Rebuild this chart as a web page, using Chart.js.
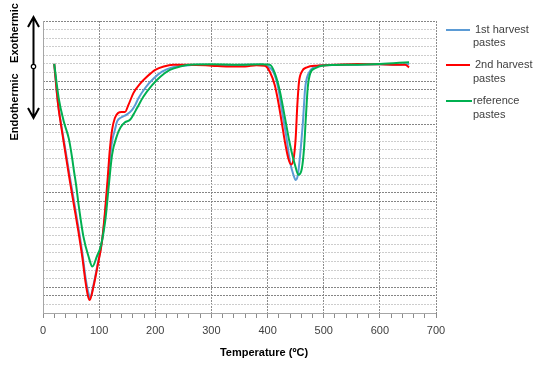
<!DOCTYPE html>
<html lang="en">
<head>
    <meta charset="UTF-8">
    <script src="https://cdn.jsdelivr.net/npm/chart.js@4.4.0/dist/chart.umd.min.js"></script>
    <title>DSC curves</title>
    <style>
        body { margin: 0; background: #fff; }
    </style>
</head>
<body>
    <canvas id="chart1" width="536" height="365"></canvas>

    <script>
        // temperatures (°C) and signal values
        var blueT = [20, 26, 33, 40, 48, 55, 63, 70, 76, 80, 84, 90, 97, 105, 111, 116, 120, 124, 128, 132, 140, 149, 158, 164, 170, 182, 197, 212, 230, 250, 280, 320, 360, 390, 401, 410, 419, 425, 433, 440, 446, 450, 454, 458, 463, 467, 473, 482, 500, 550, 600, 630, 652];
        var blueV = [29.0, 24.8, 21.7, 19.0, 15.8, 13.1, 10.0, 7.0, 4.0, 2.6, 1.8, 3.3, 5.6, 8.3, 11.8, 15.5, 18.5, 20.3, 21.3, 22.3, 22.8, 23.1, 23.6, 24.2, 25.0, 26.2, 27.3, 28.1, 28.6, 28.8, 28.9, 28.85, 28.9, 28.9, 28.7, 28.1, 26.2, 23.8, 20.7, 17.6, 16.1, 15.5, 16.1, 18.4, 22.3, 26.2, 27.9, 28.6, 28.85, 28.9, 28.95, 28.9, 29.0];

        var redT = [20, 27, 34, 40, 48, 55, 63, 70, 76, 80, 83, 90, 97, 105, 110, 115, 119, 123, 128, 134, 140, 146, 152, 161, 173, 185, 200, 215, 232, 260, 300, 330, 360, 380, 395, 404, 413, 419, 425, 431, 437, 442, 446, 450, 453, 456, 461, 470, 488, 520, 560, 600, 630, 645, 652];
        var redV = [29.0, 24.2, 21.1, 18.6, 15.3, 12.6, 9.5, 6.5, 3.5, 2.0, 1.5, 3.1, 5.4, 8.3, 11.5, 15.5, 19.0, 21.3, 22.7, 23.3, 23.4, 23.4, 24.2, 25.6, 26.7, 27.5, 28.3, 28.7, 28.9, 28.9, 28.8, 28.7, 28.7, 28.85, 28.8, 28.1, 26.5, 24.6, 22.3, 19.9, 18.0, 17.3, 17.8, 20.3, 24.2, 26.9, 28.1, 28.6, 28.8, 28.9, 29.0, 28.95, 28.9, 28.9, 28.6];

        var greenT = [20, 28, 37, 46, 52, 55, 59, 63, 72, 81, 88, 96, 103, 111, 117, 123, 132, 138, 146, 155, 161, 167, 179, 194, 209, 226, 244, 262, 300, 350, 390, 404, 413, 422, 431, 440, 449, 455, 461, 465, 468.5, 471.5, 476, 485, 497, 550, 600, 652];
        var greenV = [29.0, 25.0, 22.3, 20.3, 18.0, 16.6, 14.9, 12.8, 8.9, 6.6, 5.4, 6.6, 7.8, 10.8, 14.7, 18.4, 20.7, 21.6, 22.2, 22.5, 23.1, 23.8, 25.2, 26.5, 27.5, 28.3, 28.7, 28.9, 28.95, 28.9, 28.95, 28.9, 27.9, 25.8, 22.7, 19.6, 17.2, 16.1, 16.8, 19.2, 23.1, 26.2, 27.9, 28.5, 28.8, 28.9, 29.0, 29.2];

        var seriesNames = ['1st harvest pastes', '2nd harvest pastes', 'reference pastes'];
        var xTicks = [0, 100, 200, 300, 400, 500, 600, 700];
        // horizontal grid rows drawn darker in the original
        var darkRows = [34, 27, 26, 22, 14, 13, 3, 2];

        var colores = ['#5b9bd5', '#ff0000', '#00b050'];
        var FONT = '"Liberation Sans", Arial, sans-serif';

        function pts(t, v) {
            return t.map((x, i) => ({ x: x, y: v[i] }));
        }

        var data = {
            datasets: [
                { label: seriesNames[0], data: pts(blueT, blueV), borderColor: colores[0], order: 2 },
                { label: seriesNames[1], data: pts(redT, redV), borderColor: colores[1], order: 1 },
                { label: seriesNames[2], data: pts(greenT, greenV), borderColor: colores[2], order: 0 }
            ].map(d => Object.assign(d, {
                borderWidth: 2,
                pointRadius: 0,
                fill: false,
                cubicInterpolationMode: 'monotone'
            }))
        };

        // solid axis lines (grid lines stay dashed)
        var axisLines = {
            id: 'axisLines',
            beforeDatasetsDraw(chart) {
                var a = chart.chartArea, ctx = chart.ctx;
                ctx.save();
                ctx.strokeStyle = '#a6a6a6';
                ctx.lineWidth = 1;
                ctx.beginPath();
                ctx.moveTo(Math.round(a.left) + 0.5, a.top);
                ctx.lineTo(Math.round(a.left) + 0.5, a.bottom);
                ctx.moveTo(a.left, Math.round(a.bottom) + 0.5);
                ctx.lineTo(a.right, Math.round(a.bottom) + 0.5);
                ctx.stroke();
                ctx.restore();
            }
        };

        // side labels, arrow, legend and axis title
        var extras = {
            id: 'extras',
            afterDraw(chart) {
                var ctx = chart.ctx;
                ctx.save();
                ctx.fillStyle = '#000';
                ctx.font = 'bold 11px ' + FONT;
                ctx.textAlign = 'center';
                ctx.textBaseline = 'middle';

                ctx.save();
                ctx.translate(15, 33);
                ctx.rotate(-Math.PI / 2);
                ctx.fillText('Exothermic', 0, 0);
                ctx.restore();
                ctx.save();
                ctx.translate(15, 107);
                ctx.rotate(-Math.PI / 2);
                ctx.fillText('Endothermic', 0, 0);
                ctx.restore();

                // double arrow
                ctx.strokeStyle = '#000';
                ctx.lineWidth = 2;
                ctx.beginPath();
                ctx.moveTo(33.5, 17); ctx.lineTo(33.5, 118);
                ctx.moveTo(28, 27); ctx.lineTo(33.5, 17); ctx.lineTo(39, 27);
                ctx.moveTo(28, 108); ctx.lineTo(33.5, 118); ctx.lineTo(39, 108);
                ctx.stroke();
                ctx.lineWidth = 1.2;
                ctx.fillStyle = '#fff';
                ctx.beginPath();
                ctx.arc(33.5, 66.5, 2.2, 0, Math.PI * 2);
                ctx.fill();
                ctx.stroke();

                ctx.fillStyle = '#000';
                ctx.fillText('Temperature (ºC)', 264, 353);

                // legend
                var rows = [[30, 43], [65, 79], [101, 115]];
                ctx.font = '11px ' + FONT;
                ctx.textAlign = 'left';
                ctx.fillStyle = '#404040';
                seriesNames.forEach((name, i) => {
                    var words = name.split(' ');
                    var first = words.slice(0, -1).join(' ');
                    var last = words[words.length - 1];
                    ctx.strokeStyle = colores[i];
                    ctx.lineWidth = 2;
                    ctx.beginPath();
                    ctx.moveTo(446, rows[i][0]);
                    ctx.lineTo(i == 2 ? 472 : 470, rows[i][0]);
                    ctx.stroke();
                    ctx.fillText(first, i == 2 ? 473 : 475, rows[i][0]);
                    ctx.fillText(last, 473, rows[i][1]);
                });
                ctx.restore();
            }
        };

        var options = {
            responsive: false,
            animation: false,
            layout: { padding: { left: 43, right: 100, top: 21, bottom: 22 } },
            plugins: {
                legend: { display: false },
                tooltip: { enabled: false }
            },
            scales: {
                x: {
                    type: 'linear',
                    min: xTicks[0],
                    max: xTicks[xTicks.length - 1],
                    afterFit: s => { s.height = 30; },
                    ticks: {
                        stepSize: 20,
                        autoSkip: false,
                        maxRotation: 0,
                        padding: 6,
                        color: '#404040',
                        font: { family: FONT, size: 11 },
                        callback: v => xTicks.includes(v) ? v : ''
                    },
                    grid: {
                        color: c => c.tick && c.tick.value % 100 == 0 && c.tick.value > 0 ? '#8c8c8c' : 'rgba(0,0,0,0)',
                        tickColor: '#8c8c8c',
                        tickLength: 5
                    },
                    border: { display: false, dash: [2, 1] }
                },
                y: {
                    min: 0,
                    max: 34,
                    afterFit: s => { s.width = 0; },
                    ticks: { display: false, stepSize: 1 },
                    grid: {
                        drawTicks: false,
                        color: c => c.tick.value == 0 ? 'rgba(0,0,0,0)' : darkRows.includes(c.tick.value) ? '#858585' : '#cdcdcd'
                    },
                    border: { display: false, dash: [2, 1] }
                }
            }
        };

        var ctx = document.getElementById('chart1').getContext('2d');
        var myChart = new Chart(ctx, { type: 'line', data, options, plugins: [axisLines, extras] });
    </script>
</body>
</html>
